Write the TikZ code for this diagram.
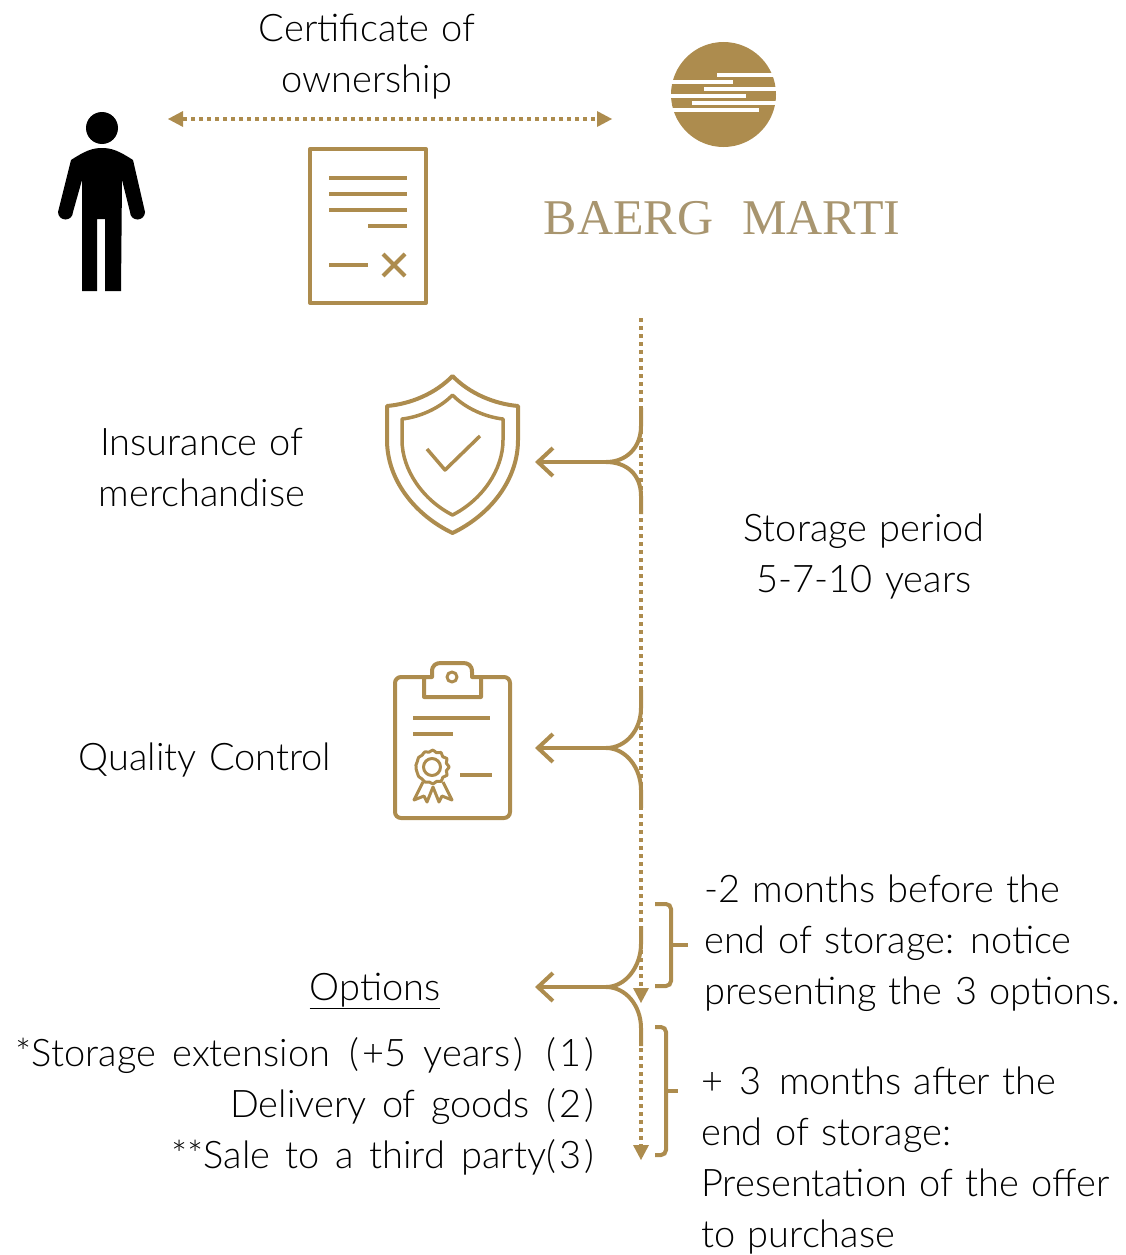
\documentclass[tikz,border=0pt]{standalone}
\usepackage{fontspec}
\setmainfont{Lato}[UprightFont=* Light,WordSpace=1.2]
\newfontfamily\logofont{Liberation Serif}
\usetikzlibrary{arrows.meta,calc}
\definecolor{gold}{HTML}{AD8C4E}
\definecolor{logotan}{HTML}{A8956F}
\newcommand{\widegap}[1]{\hspace{#1pt} }
\newcommand{\widenum}[1]{(\hspace{3pt}#1\hspace{3pt})}
\tikzset{
  textdecorate/.style={inner sep=0pt,font=\fontsize{38}{51}\selectfont},
  icondecorate/.style={draw=gold,line width=4pt,line join=round},
  dotdecorate/.style={gold,line width=3.5pt,dash pattern=on 4pt off 4pt},
  forkdecorate/.style={gold,line width=4pt},
  bracedecorate/.style={gold,line width=4pt,rounded corners=5pt}
}
\begin{document}
\begin{tikzpicture}[x=1pt,y=-1pt]
\useasboundingbox (0,0) rectangle (1125,1255);
%% texts
\foreach \nodename/\x/\y/\anchorname/\alignname/\words in {
  certificate/367/57/center/center/{Certificate of\\ownership},
  insurance/202/468/center/center/{Insurance of\\merchandise},
  quality/205/760.5/center/center/Quality Control,
  storage/864/557/center/center/{Storage period\\5-7-10 years},
  options/375/991/center/center/\underline{Options},
  choices/594/1106/east/right/{*Storage\widegap{4}extension\widegap{7}(\hspace{3pt}+5\widegap{5}years\hspace{3pt})\widegap{11}\widenum{1}\\Delivery\widegap{3}of\widegap{3}goods\widegap{4}\widenum{2}\\**Sale\widegap{3}to\widegap{3}a\widegap{3}third\widegap{4}party\widenum{3}},
  before/704/943/west/left/{-2 months before the\\end of storage: notice\\presenting the 3 options.},
  after/701/1161/west/left/{+\widegap{4}3\widegap{5}months after the\\end of storage:\\Presentation of the offer\\to purchase}} {
  \node (\nodename) at (\x,\y) [textdecorate,anchor=\anchorname,align=\alignname] {\words};
}
\node (logoname) at (722,218) [inner sep=0pt,text=logotan,font=\logofont\fontsize{50}{50}\selectfont] {BAERG\hspace{29pt}MARTI};
%% person
\fill (102,128) circle (16);
\fill (71,160) .. controls (85,151) and (92,148) .. (102,148) .. controls (112,148) and (119,151) .. (133,160)
  -- (145,212) arc (0:180:7.5) -- (122,180) -- (121,291) -- (105,291) -- (105,219) -- (97,219) -- (97,291)
  -- (82,291) -- (82,180) -- (73,212) arc (0:180:7.5) -- cycle;
%% document
\draw [icondecorate] (310,149) rectangle (426,303);
\foreach \xa/\xb/\y in {329/407/178, 329/407/194, 329/407/210, 368/407/226, 329/368/265} {
  \draw [icondecorate] (\xa,\y) -- (\xb,\y);
}
\draw [icondecorate] (383,254) -- (405,276) (383,276) -- (405,254);
%% logo
\fill [gold] (723.5,94.5) circle (52.5);
\foreach \xa/\xb/\y in {717/773/75, 672/733/82, 704/777/89, 670/746/96, 692/777/103, 672/759/110} {
  \fill [white] (\xa,\y-2.1) rectangle (\xb,\y+2.1);
}
%% shield
\draw [icondecorate] (452.5,376) .. controls (470,394) and (495,404) .. (518,406)
  -- (518,440) .. controls (518,480) and (490,515) .. (452.5,533)
  .. controls (415,515) and (387,480) .. (387,440) -- (387,406)
  .. controls (410,404) and (435,394) .. (452.5,376) -- cycle;
\draw [icondecorate,line width=3.5pt] (452.5,395) .. controls (465,408) and (485,417) .. (503,419)
  -- (503,440) .. controls (503,470) and (482,500) .. (452.5,515)
  .. controls (423,500) and (402,470) .. (402,440) -- (402,419)
  .. controls (420,417) and (440,408) .. (452.5,395) -- cycle;
\draw [icondecorate,line width=3.5pt] (427,449) -- (445,470) -- (480,436);
%% clipboard
\draw [icondecorate,rounded corners=6pt] (395,677) rectangle (510,818);
\draw [icondecorate,fill=white] (424,697) -- (424,677) -- (432,677) -- (432,672)
  .. controls (432,665) and (436,663) .. (441,663) -- (463,663)
  .. controls (468,663) and (472,665) .. (472,672) -- (472,677) -- (481,677) -- (481,697) -- cycle;
\draw [icondecorate,line width=3pt] (452,677) circle (5);
\foreach \xa/\xb/\y in {413/490/718, 413/453/734, 460/492/775} {
  \draw [icondecorate] (\xa,\y) -- (\xb,\y);
}
\draw [icondecorate,line width=3pt] (432,767) circle (8.5);
\draw [icondecorate,line width=3pt] plot [smooth cycle,samples=25,domain=0:345,variable=\t]
  ({432+(16+1.2*cos(12*\t))*cos(\t)},{767+(16+1.2*cos(12*\t))*sin(\t)});
\draw [icondecorate,line width=3pt] (423,782) -- (414,800) -- (424,796) -- (427,802) -- (433,787) -- (439,802) -- (442,796) -- (452,800) -- (443,782);
%% connectors
\coordinate (ownerleft) at (168,119);
\coordinate (ownerright) at (612,119);
\coordinate (linestart) at (641,318);
\coordinate (lineend) at (641,1003);
\coordinate (extrastart) at (641,1040);
\coordinate (extraend) at (641,1160);
\draw [dotdecorate,{Triangle[length=15pt,width=16pt,line width=0pt]}-{Triangle[length=15pt,width=16pt,line width=0pt]}] (ownerleft) -- (ownerright);
\draw [dotdecorate,-{Triangle[length=15pt,width=16pt,line width=0pt]}] (linestart) -- (lineend);
\draw [dotdecorate,-{Triangle[length=15pt,width=16pt,line width=0pt]}] (extrastart) -- (extraend);
\foreach \forkname/\ya/\yb/\yc in {shieldfork/408/462/514, clipfork/690/748/808, optionfork/926/987/1046} {
  \coordinate (\forkname top) at (641,\ya);
  \coordinate (\forkname mid) at (606,\yb);
  \coordinate (\forkname tip) at (535,\yb);
  \coordinate (\forkname end) at (641,\yc);
  \draw [forkdecorate,-{Straight Barb[length=15pt,width=28pt,line width=4pt]}] (\forkname mid) -- (\forkname tip);
  \draw [forkdecorate] (\forkname top) -- ++(0,18) .. controls +(0,22) and +(20,0) .. (\forkname mid)
    .. controls +(20,0) and +(0,-22) .. ($(\forkname end)+(0,-18)$) -- (\forkname end);
}
%% braces
\draw [bracedecorate] (655,904) -- (671,904) -- (671,986) -- (655,986);
\draw [forkdecorate] (671,945) -- (688,945);
\draw [bracedecorate] (655,1027) -- (666,1027) -- (666,1155) -- (655,1155);
\draw [forkdecorate] (666,1091) -- (678,1091);
\end{tikzpicture}
\end{document}
